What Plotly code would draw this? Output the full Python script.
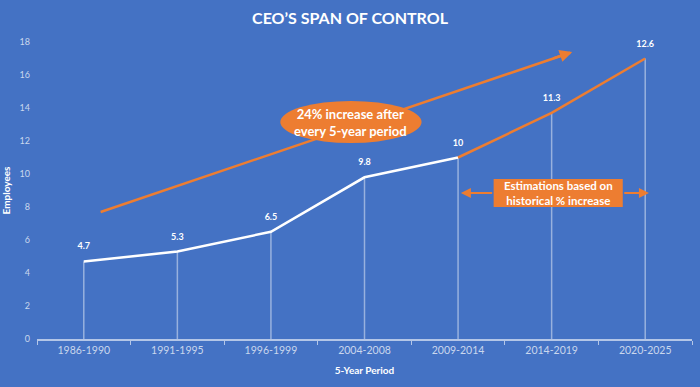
import plotly.graph_objects as go

periods = ["1986-1990", "1991-1995", "1996-1999", "2004-2008", "2009-2014", "2014-2019", "2020-2025"]
# plotted heights as drawn in the reference
employees = [4.7, 5.3, 6.5, 9.8, 11.0, 13.7, 17.0]
# value labels as printed in the reference
value_labels = ["4.7", "5.3", "6.5", "9.8", "10", "11.3", "12.6"]
n_hist = 5  # first five periods are historical (white line)
y_ticks = [0, 2, 4, 6, 8, 10, 12, 14, 16, 18]

BG = "#4472C4"
ORANGE = "#ED7D31"
LIGHT = "rgba(255,255,255,0.72)"
FONT = "Lato"

fig = go.Figure()

# vertical drop lines
dx, dy = [], []
for p, v in zip(periods, employees):
    dx += [p, p, None]
    dy += [0, v, None]
fig.add_trace(go.Scatter(x=dx, y=dy, mode="lines",
                         line=dict(color="rgba(255,255,255,0.45)", width=1.5),
                         hoverinfo="skip", showlegend=False))

# historical line
fig.add_trace(go.Scatter(x=periods[:n_hist], y=employees[:n_hist], mode="lines",
                         line=dict(color="white", width=2.5), showlegend=False))
# estimated line
fig.add_trace(go.Scatter(x=periods[n_hist - 1:], y=employees[n_hist - 1:], mode="lines",
                         line=dict(color=ORANGE, width=2.5), showlegend=False))
# labels
fig.add_trace(go.Scatter(x=periods, y=employees, mode="markers+text", text=value_labels,
                         textposition="top center", cliponaxis=False,
                         marker=dict(size=14, opacity=0),
                         textfont=dict(color="white", size=9, family=FONT, weight="bold"),
                         hoverinfo="skip", showlegend=False))

shapes = []
# trend line (behind oval)
shapes.append(dict(type="line", xref="x", yref="y", x0=0.18, y0=7.7, x1=5.2, y1=17.35,
                   line=dict(color=ORANGE, width=2.5), layer="above"))
# oval
shapes.append(dict(type="circle", xref="x", yref="y", x0=2.10, x1=3.61, y0=11.88, y1=14.43,
                   fillcolor=ORANGE, line=dict(color=ORANGE, width=0), layer="above"))
# estimation box
shapes.append(dict(type="rect", xref="x", yref="y", x0=4.38, x1=5.76, y0=8.0, y1=9.7,
                   fillcolor=ORANGE, line=dict(width=0), layer="above"))
fig.update_layout(shapes=shapes)

annotations = [
    # arrowhead of trend
    dict(x=5.22, y=17.4, ax=5.0, ay=16.98, xref="x", yref="y", axref="x", ayref="y",
         text="", showarrow=True, arrowhead=2, arrowsize=1, arrowwidth=2.5, arrowcolor=ORANGE),
    dict(x=2.855, y=13.15, xref="x", yref="y", showarrow=False,
         text="24% increase after<br>every 5-year period",
         font=dict(color="white", size=13, family=FONT, weight="bold")),
    dict(x=5.07, y=8.85, xref="x", yref="y", showarrow=False,
         text="Estimations based on<br>historical % increase",
         font=dict(color="white", size=11.5, family=FONT, weight="bold")),
    dict(x=4.03, y=8.85, ax=4.38, ay=8.85, xref="x", yref="y", axref="x", ayref="y",
         text="", showarrow=True, arrowhead=2, arrowsize=1, arrowwidth=2, arrowcolor=ORANGE),
    dict(x=6.04, y=8.85, ax=5.76, ay=8.85, xref="x", yref="y", axref="x", ayref="y",
         text="", showarrow=True, arrowhead=2, arrowsize=1, arrowwidth=2, arrowcolor=ORANGE),
]
fig.update_layout(annotations=annotations)

fig.update_layout(
    width=700, height=387,
    paper_bgcolor=BG, plot_bgcolor=BG,
    margin=dict(l=37, r=8, t=42, b=48),
    hovermode=False,
    title=dict(text="CEO\u2019S SPAN OF CONTROL", x=0.5, xanchor="center", y=0.953, yanchor="middle",
               font=dict(color="white", size=16, family=FONT, weight="bold")),
    xaxis=dict(type="category", categoryorder="array", categoryarray=periods,
               range=[-0.5, 6.5], showgrid=False, zeroline=False, automargin=False,
               showline=True, linecolor="rgba(255,255,255,0.6)", linewidth=2,
               ticks="outside", tickson="boundaries", ticklen=4, tickcolor="rgba(255,255,255,0.6)",
               tickfont=dict(color=LIGHT, size=10.5, family=FONT),
               title=dict(text="5-Year Period", standoff=12,
                          font=dict(color="white", size=10, family=FONT, weight="bold"))),
    yaxis=dict(range=[0, 18], tickvals=y_ticks, showgrid=False, zeroline=False, showline=False,
               automargin=False,
               tickfont=dict(color=LIGHT, size=9, family=FONT), ticklabelstandoff=6,
               title=dict(text="Employees", standoff=8,
                          font=dict(color="white", size=10, family=FONT, weight="bold"))),
)

fig.write_html("out.html", config={"displayModeBar": False},
               post_script="document.body.style.margin='0';document.body.style.background='" + BG + "';")
